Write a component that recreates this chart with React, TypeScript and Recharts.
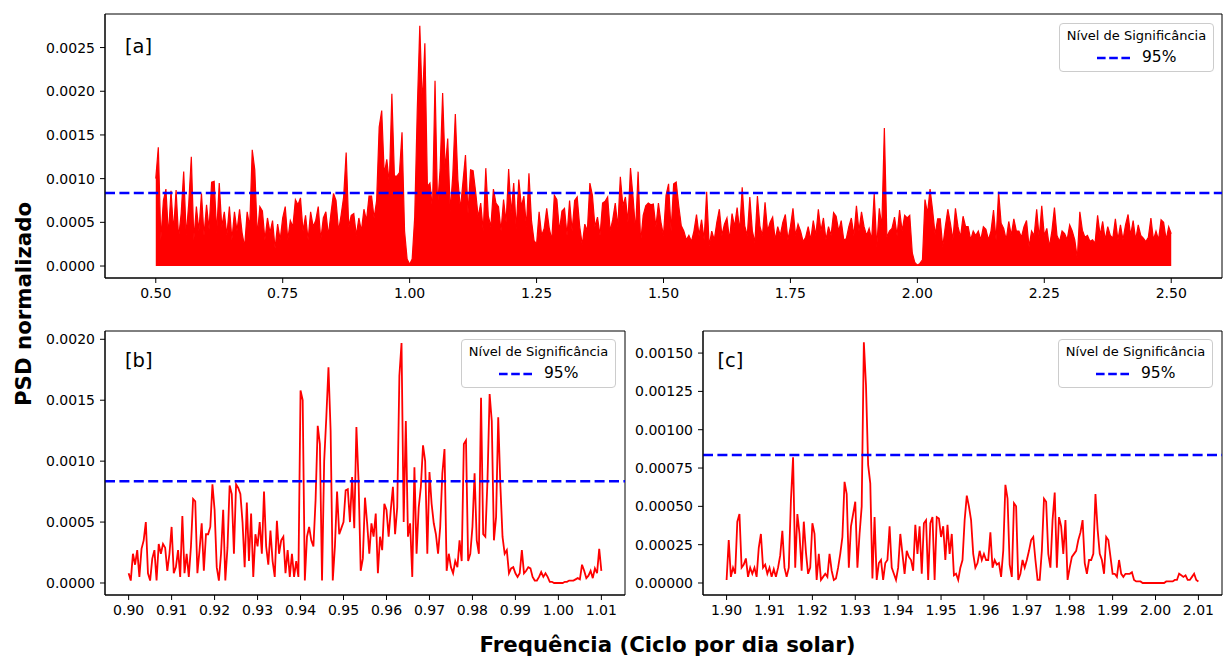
import React from 'react';
import {
  AreaChart,
  Area,
  LineChart,
  Line,
  XAxis,
  YAxis,
  ReferenceLine,
  ReferenceArea,
  Legend,
} from 'recharts';

// 95% significance level of the normalized PSD
const THRESHOLD_95 = 0.000835;

// [a] full band 0.50 - 2.50 c/d, sampled every 0.005 c/d
const FREQ_A_START = 0.5;
const FREQ_A_STEP = 0.005;
const psdA = [
  0.00100, 0.00136, 0.00030, 0.00075, 0.00088, 0.00035, 0.00086, 0.00040, 0.00087, 0.00032,
  0.00060, 0.00108, 0.00035, 0.00072, 0.00125, 0.00030, 0.00068, 0.00040, 0.00083, 0.00035,
  0.00070, 0.00042, 0.00096, 0.00097, 0.00038, 0.00095, 0.00045, 0.00062, 0.00035, 0.00068,
  0.00030, 0.00062, 0.00040, 0.00065, 0.00038, 0.00022, 0.00062, 0.00045, 0.00133, 0.00110,
  0.00035, 0.00068, 0.00063, 0.00030, 0.00055, 0.00038, 0.00052, 0.00020, 0.00048, 0.00030,
  0.00055, 0.00068, 0.00030, 0.00052, 0.00045, 0.00076, 0.00070, 0.00078, 0.00040, 0.00058,
  0.00030, 0.00062, 0.00045, 0.00052, 0.00068, 0.00030, 0.00055, 0.00062, 0.00035, 0.00060,
  0.00083, 0.00075, 0.00040, 0.00058, 0.00079, 0.00130, 0.00045, 0.00058, 0.00060, 0.00035,
  0.00055, 0.00040, 0.00065, 0.00052, 0.00080, 0.00080, 0.00055, 0.00075, 0.00159, 0.00178,
  0.00105, 0.00122, 0.00095, 0.00197, 0.00103, 0.00103, 0.00107, 0.00153, 0.00040, 0.00008,
  0.00002, 0.00008, 0.00056, 0.00178, 0.00275, 0.00184, 0.00255, 0.00091, 0.00095, 0.00065,
  0.00212, 0.00068, 0.00110, 0.00198, 0.00110, 0.00146, 0.00062, 0.00104, 0.00174, 0.00099,
  0.00065, 0.00096, 0.00127, 0.00060, 0.00110, 0.00109, 0.00085, 0.00056, 0.00072, 0.00040,
  0.00112, 0.00057, 0.00045, 0.00088, 0.00072, 0.00068, 0.00040, 0.00076, 0.00050, 0.00111,
  0.00060, 0.00095, 0.00042, 0.00099, 0.00068, 0.00080, 0.00045, 0.00106, 0.00052, 0.00029,
  0.00025, 0.00062, 0.00035, 0.00043, 0.00066, 0.00043, 0.00030, 0.00081, 0.00076, 0.00040,
  0.00063, 0.00066, 0.00035, 0.00075, 0.00040, 0.00075, 0.00079, 0.00045, 0.00024, 0.00048,
  0.00040, 0.00095, 0.00081, 0.00045, 0.00056, 0.00035, 0.00072, 0.00074, 0.00079, 0.00040,
  0.00053, 0.00072, 0.00045, 0.00102, 0.00069, 0.00079, 0.00050, 0.00112, 0.00079, 0.00040,
  0.00108, 0.00027, 0.00058, 0.00069, 0.00072, 0.00070, 0.00071, 0.00045, 0.00072, 0.00050,
  0.00035, 0.00081, 0.00094, 0.00040, 0.00094, 0.00096, 0.00069, 0.00046, 0.00040, 0.00030,
  0.00035, 0.00028, 0.00040, 0.00059, 0.00035, 0.00053, 0.00030, 0.00085, 0.00023, 0.00040,
  0.00030, 0.00050, 0.00065, 0.00035, 0.00048, 0.00055, 0.00030, 0.00060, 0.00045, 0.00067,
  0.00040, 0.00090, 0.00046, 0.00035, 0.00079, 0.00040, 0.00027, 0.00080, 0.00045, 0.00035,
  0.00073, 0.00040, 0.00050, 0.00056, 0.00030, 0.00045, 0.00035, 0.00050, 0.00059, 0.00030,
  0.00045, 0.00066, 0.00035, 0.00048, 0.00040, 0.00028, 0.00033, 0.00045, 0.00030, 0.00052,
  0.00035, 0.00065, 0.00040, 0.00055, 0.00030, 0.00045, 0.00035, 0.00061, 0.00057, 0.00040,
  0.00052, 0.00030, 0.00031, 0.00045, 0.00055, 0.00035, 0.00069, 0.00040, 0.00062, 0.00045,
  0.00035, 0.00043, 0.00030, 0.00083, 0.00022, 0.00066, 0.00045, 0.00158, 0.00033, 0.00040,
  0.00043, 0.00056, 0.00035, 0.00064, 0.00040, 0.00058, 0.00055, 0.00058, 0.00015, 0.00004,
  0.00001, 0.00003, 0.00007, 0.00076, 0.00060, 0.00088, 0.00064, 0.00036, 0.00054, 0.00054,
  0.00022, 0.00045, 0.00065, 0.00049, 0.00030, 0.00066, 0.00045, 0.00033, 0.00057, 0.00045,
  0.00045, 0.00030, 0.00040, 0.00035, 0.00040, 0.00030, 0.00045, 0.00042, 0.00030, 0.00040,
  0.00064, 0.00030, 0.00085, 0.00049, 0.00043, 0.00030, 0.00051, 0.00035, 0.00054, 0.00040,
  0.00040, 0.00033, 0.00045, 0.00052, 0.00022, 0.00040, 0.00035, 0.00065, 0.00032, 0.00069,
  0.00035, 0.00043, 0.00022, 0.00040, 0.00067, 0.00035, 0.00028, 0.00040, 0.00037, 0.00030,
  0.00047, 0.00040, 0.00030, 0.00009, 0.00062, 0.00041, 0.00033, 0.00035, 0.00028, 0.00030,
  0.00026, 0.00058, 0.00035, 0.00051, 0.00030, 0.00045, 0.00035, 0.00032, 0.00054, 0.00030,
  0.00047, 0.00030, 0.00047, 0.00059, 0.00035, 0.00052, 0.00030, 0.00047, 0.00035, 0.00032,
  0.00028, 0.00033, 0.00055, 0.00030, 0.00040, 0.00030, 0.00053, 0.00050, 0.00030, 0.00045,
  0.00037,
];

// [b] zoom 0.90 - 1.01 c/d, sampled every 0.0005 c/d
const FREQ_B_START = 0.9;
const FREQ_B_STEP = 0.0005;
const psdB = [
  0.00008, 0.00002, 0.00024, 0.00015, 0.00027, 0.00005, 0.00028, 0.00035, 0.00050, 0.00008,
  0.00002, 0.00020, 0.00027, 0.00002, 0.00032, 0.00024, 0.00032, 0.00029, 0.00010, 0.00024,
  0.00046, 0.00008, 0.00013, 0.00027, 0.00005, 0.00055, 0.00008, 0.00024, 0.00005, 0.00030,
  0.00069, 0.00067, 0.00008, 0.00027, 0.00049, 0.00010, 0.00040, 0.00040, 0.00046, 0.00081,
  0.00060, 0.00013, 0.00002, 0.00024, 0.00060, 0.00002, 0.00029, 0.00080, 0.00073, 0.00024,
  0.00081, 0.00078, 0.00073, 0.00050, 0.00013, 0.00066, 0.00018, 0.00057, 0.00005, 0.00040,
  0.00030, 0.00050, 0.00024, 0.00075, 0.00030, 0.00015, 0.00043, 0.00018, 0.00005, 0.00051,
  0.00024, 0.00035, 0.00038, 0.00008, 0.00027, 0.00005, 0.00024, 0.00005, 0.00018, 0.00005,
  0.00158, 0.00150, 0.00002, 0.00038, 0.00046, 0.00035, 0.00030, 0.00068, 0.00129, 0.00114,
  0.00002, 0.00100, 0.00136, 0.00177, 0.00125, 0.00002, 0.00030, 0.00075, 0.00040, 0.00045,
  0.00050, 0.00076, 0.00077, 0.00050, 0.00087, 0.00045, 0.00128, 0.00084, 0.00010, 0.00020,
  0.00070, 0.00049, 0.00024, 0.00049, 0.00038, 0.00057, 0.00008, 0.00038, 0.00027, 0.00065,
  0.00060, 0.00038, 0.00060, 0.00079, 0.00040, 0.00062, 0.00170, 0.00197, 0.00050, 0.00133,
  0.00038, 0.00049, 0.00005, 0.00095, 0.00024, 0.00062, 0.00079, 0.00113, 0.00100, 0.00024,
  0.00091, 0.00065, 0.00049, 0.00040, 0.00024, 0.00046, 0.00090, 0.00110, 0.00010, 0.00024,
  0.00013, 0.00008, 0.00018, 0.00013, 0.00035, 0.00018, 0.00114, 0.00117, 0.00018, 0.00024,
  0.00046, 0.00090, 0.00035, 0.00024, 0.00152, 0.00040, 0.00038, 0.00084, 0.00155, 0.00133,
  0.00035, 0.00054, 0.00136, 0.00080, 0.00038, 0.00024, 0.00027, 0.00008, 0.00012, 0.00013,
  0.00008, 0.00005, 0.00008, 0.00027, 0.00008, 0.00010, 0.00013, 0.00012, 0.00005, 0.00002,
  0.00002, 0.00005, 0.00009, 0.00005, 0.00008, 0.00005, 0.00001, 0.00001, 0.00000, 0.00000,
  0.00000, 0.00000, 0.00000, 0.00001, 0.00001, 0.00002, 0.00002, 0.00002, 0.00003, 0.00004,
  0.00003, 0.00015, 0.00010, 0.00004, 0.00006, 0.00010, 0.00004, 0.00012, 0.00008, 0.00028,
  0.00010,
];

// [c] zoom 1.90 - 2.01 c/d, sampled every 0.0005 c/d
const FREQ_C_START = 1.9;
const FREQ_C_STEP = 0.0005;
const psdC = [
  0.00002, 0.00028, 0.00004, 0.00010, 0.00006, 0.00040, 0.00045, 0.00010, 0.00012, 0.00016,
  0.00004, 0.00010, 0.00006, 0.00010, 0.00004, 0.00023, 0.00032, 0.00010, 0.00012, 0.00006,
  0.00010, 0.00004, 0.00009, 0.00004, 0.00010, 0.00018, 0.00034, 0.00010, 0.00004, 0.00010,
  0.00054, 0.00082, 0.00010, 0.00045, 0.00032, 0.00008, 0.00040, 0.00020, 0.00006, 0.00010,
  0.00039, 0.00032, 0.00002, 0.00019, 0.00002, 0.00004, 0.00006, 0.00004, 0.00019, 0.00008,
  0.00002, 0.00003, 0.00010, 0.00019, 0.00030, 0.00066, 0.00058, 0.00010, 0.00037, 0.00045,
  0.00053, 0.00010, 0.00032, 0.00050, 0.00157, 0.00129, 0.00077, 0.00065, 0.00003, 0.00043,
  0.00002, 0.00013, 0.00015, 0.00002, 0.00013, 0.00015, 0.00037, 0.00010, 0.00006, 0.00002,
  0.00010, 0.00032, 0.00019, 0.00006, 0.00021, 0.00017, 0.00015, 0.00008, 0.00038, 0.00019,
  0.00037, 0.00006, 0.00039, 0.00041, 0.00002, 0.00039, 0.00043, 0.00002, 0.00043, 0.00042,
  0.00030, 0.00037, 0.00015, 0.00038, 0.00019, 0.00032, 0.00005, 0.00006, 0.00002, 0.00010,
  0.00015, 0.00041, 0.00057, 0.00050, 0.00041, 0.00019, 0.00010, 0.00013, 0.00021, 0.00015,
  0.00019, 0.00015, 0.00015, 0.00033, 0.00010, 0.00015, 0.00012, 0.00013, 0.00004, 0.00021,
  0.00064, 0.00055, 0.00012, 0.00004, 0.00052, 0.00050, 0.00002, 0.00006, 0.00015, 0.00010,
  0.00015, 0.00021, 0.00028, 0.00030, 0.00015, 0.00002, 0.00002, 0.00021, 0.00055, 0.00053,
  0.00019, 0.00010, 0.00041, 0.00059, 0.00010, 0.00043, 0.00037, 0.00019, 0.00041, 0.00002,
  0.00010, 0.00017, 0.00019, 0.00021, 0.00028, 0.00033, 0.00041, 0.00013, 0.00006, 0.00015,
  0.00015, 0.00019, 0.00058, 0.00035, 0.00019, 0.00015, 0.00006, 0.00030, 0.00028, 0.00017,
  0.00006, 0.00006, 0.00004, 0.00015, 0.00006, 0.00004, 0.00006, 0.00006, 0.00006, 0.00007,
  0.00002, 0.00001, 0.00001, 0.00001, 0.00000, 0.00000, 0.00000, 0.00000, 0.00000, 0.00000,
  0.00000, 0.00000, 0.00000, 0.00000, 0.00000, 0.00001, 0.00001, 0.00001, 0.00001, 0.00002,
  0.00002, 0.00006, 0.00005, 0.00004, 0.00005, 0.00002, 0.00002, 0.00004, 0.00006, 0.00002,
  0.00001,
];

// axis ticks
const xTicksA = [0.5, 0.75, 1.0, 1.25, 1.5, 1.75, 2.0, 2.25, 2.5];
const yTicksA = [0, 0.0005, 0.001, 0.0015, 0.002, 0.0025];
const xTicksB = [0.9, 0.91, 0.92, 0.93, 0.94, 0.95, 0.96, 0.97, 0.98, 0.99, 1.0, 1.01];
const yTicksB = [0, 0.0005, 0.001, 0.0015, 0.002];
const xTicksC = [1.9, 1.91, 1.92, 1.93, 1.94, 1.95, 1.96, 1.97, 1.98, 1.99, 2.0, 2.01];
const yTicksC = [0, 0.00025, 0.0005, 0.00075, 0.001, 0.00125, 0.0015];

// visible ranges (5% padding around the data)
const xDomainA: [number, number] = [0.4, 2.6];
const yDomainA: [number, number] = [-0.000137, 0.002884];
const xDomainB: [number, number] = [0.8945, 1.0155];
const yDomainB: [number, number] = [-0.0000985, 0.002068];
const xDomainC: [number, number] = [1.8945, 2.0155];
const yDomainC: [number, number] = [-0.0000783, 0.001644];

const toRows = (start: number, step: number, values: number[]) =>
  values.map((psd, i) => ({ f: +(start + i * step).toFixed(4), psd }));

const rowsA = toRows(FREQ_A_START, FREQ_A_STEP, psdA);
const rowsB = toRows(FREQ_B_START, FREQ_B_STEP, psdB);
const rowsC = toRows(FREQ_C_START, FREQ_C_STEP, psdC);

const FONT = 'DejaVu Sans, Verdana, sans-serif';
const RED = '#ff0000';
const BLUE = '#0000ff';
const tickStyle = { fontSize: 14, fill: '#000', fontFamily: FONT };

function SignificanceLegend() {
  return (
    <div
      style={{
        position: 'relative',
        width: 155,
        height: 49,
        boxSizing: 'border-box',
        border: '1px solid #cccccc',
        borderRadius: 4,
        background: 'rgba(255,255,255,0.8)',
        fontFamily: FONT,
        color: '#000',
      }}
    >
      <div
        style={{
          position: 'absolute',
          left: 0,
          right: 0,
          top: 3,
          textAlign: 'center',
          fontSize: 13,
          lineHeight: '18px',
          whiteSpace: 'nowrap',
        }}
      >
        Nível de Significância
      </div>
      <svg style={{ position: 'absolute', left: 37, top: 30 }} width={33} height={8}>
        <line x1={0} y1={4} x2={33} y2={4} stroke={BLUE} strokeWidth={2.6} strokeDasharray="8.6 3.6" />
      </svg>
      <div style={{ position: 'absolute', left: 82, top: 23, fontSize: 15.5, lineHeight: '20px' }}>95%</div>
    </div>
  );
}

const panelTag = (text: string, dx: number, dy: number) => (props: any) => {
  const vb = props.viewBox || { x: 0, y: 0 };
  return (
    <text x={vb.x + dx} y={vb.y + dy} fontSize={19.5} fill="#000" fontFamily={FONT}>
      {text}
    </text>
  );
};

export default function App() {
  return (
    <div
      style={{
        position: 'absolute',
        left: 0,
        top: 0,
        width: 1231,
        height: 657,
        background: '#fff',
        fontFamily: FONT,
        overflow: 'hidden',
      }}
    >
      {/* [a] full band */}
      <div style={{ position: 'absolute', left: 0, top: 0 }}>
        <AreaChart width={1231} height={310} data={rowsA} margin={{ top: 14, right: 9, bottom: 0, left: 0 }}>
          <XAxis
            dataKey="f"
            type="number"
            domain={xDomainA}
            ticks={xTicksA}
            allowDataOverflow
            height={32}
            tickSize={5}
            tickMargin={5}
            tick={tickStyle}
            tickLine={{ stroke: '#000' }}
            axisLine={{ stroke: '#000' }}
            tickFormatter={(v: number) => v.toFixed(2)}
          />
          <YAxis
            type="number"
            domain={yDomainA}
            ticks={yTicksA}
            allowDataOverflow
            width={105}
            tickSize={5}
            tickMargin={5}
            tick={tickStyle}
            tickLine={{ stroke: '#000' }}
            axisLine={{ stroke: '#000' }}
            tickFormatter={(v: number) => v.toFixed(4)}
          />
          <Area
            type="linear"
            dataKey="psd"
            stroke={RED}
            strokeWidth={1.2}
            fill={RED}
            fillOpacity={1}
            baseValue={0}
            dot={false}
            activeDot={false}
            isAnimationActive={false}
          />
          <ReferenceLine y={THRESHOLD_95} stroke={BLUE} strokeWidth={2.6} strokeDasharray="10 4.4" />
          <ReferenceArea
            x1={xDomainA[0]}
            x2={xDomainA[1]}
            y1={yDomainA[0]}
            y2={yDomainA[1]}
            fill="none"
            stroke="#000"
            strokeWidth={1}
            ifOverflow="visible"
            label={panelTag('[a]', 20, 38.8)}
          />
          <Legend
            layout="vertical"
            align="center"
            verticalAlign="middle"
            wrapperStyle={{ left: 1059, top: 23, width: 155, height: 49 }}
            content={() => <SignificanceLegend />}
          />
        </AreaChart>
      </div>

      {/* [b] zoom around 1 c/d */}
      <div style={{ position: 'absolute', left: 0, top: 300 }}>
        <LineChart width={640} height={340} data={rowsB} margin={{ top: 31, right: 15, bottom: 0, left: 0 }}>
          <XAxis
            dataKey="f"
            type="number"
            domain={xDomainB}
            ticks={xTicksB}
            allowDataOverflow
            height={45}
            tickSize={5}
            tickMargin={5}
            tick={tickStyle}
            tickLine={{ stroke: '#000' }}
            axisLine={{ stroke: '#000' }}
            tickFormatter={(v: number) => v.toFixed(2)}
          />
          <YAxis
            type="number"
            domain={yDomainB}
            ticks={yTicksB}
            allowDataOverflow
            width={105}
            tickSize={5}
            tickMargin={5}
            tick={tickStyle}
            tickLine={{ stroke: '#000' }}
            axisLine={{ stroke: '#000' }}
            tickFormatter={(v: number) => v.toFixed(4)}
          />
          <Line
            type="linear"
            dataKey="psd"
            stroke={RED}
            strokeWidth={1.8}
            dot={false}
            activeDot={false}
            isAnimationActive={false}
          />
          <ReferenceLine y={THRESHOLD_95} stroke={BLUE} strokeWidth={2.6} strokeDasharray="10 4.4" />
          <ReferenceArea
            x1={xDomainB[0]}
            x2={xDomainB[1]}
            y1={yDomainB[0]}
            y2={yDomainB[1]}
            fill="none"
            stroke="#000"
            strokeWidth={1}
            ifOverflow="visible"
            label={panelTag('[b]', 20, 36.4)}
          />
          <Legend
            layout="vertical"
            align="center"
            verticalAlign="middle"
            wrapperStyle={{ left: 461, top: 39, width: 155, height: 49 }}
            content={() => <SignificanceLegend />}
          />
        </LineChart>
      </div>

      {/* [c] zoom around 2 c/d */}
      <div style={{ position: 'absolute', left: 620, top: 300 }}>
        <LineChart width={611} height={340} data={rowsC} margin={{ top: 31, right: 9, bottom: 0, left: 0 }}>
          <XAxis
            dataKey="f"
            type="number"
            domain={xDomainC}
            ticks={xTicksC}
            allowDataOverflow
            height={45}
            tickSize={5}
            tickMargin={5}
            tick={tickStyle}
            tickLine={{ stroke: '#000' }}
            axisLine={{ stroke: '#000' }}
            tickFormatter={(v: number) => v.toFixed(2)}
          />
          <YAxis
            type="number"
            domain={yDomainC}
            ticks={yTicksC}
            allowDataOverflow
            width={83}
            tickSize={5}
            tickMargin={5}
            tick={tickStyle}
            tickLine={{ stroke: '#000' }}
            axisLine={{ stroke: '#000' }}
            tickFormatter={(v: number) => v.toFixed(5)}
          />
          <Line
            type="linear"
            dataKey="psd"
            stroke={RED}
            strokeWidth={1.8}
            dot={false}
            activeDot={false}
            isAnimationActive={false}
          />
          <ReferenceLine y={THRESHOLD_95} stroke={BLUE} strokeWidth={2.6} strokeDasharray="10 4.4" />
          <ReferenceArea
            x1={xDomainC[0]}
            x2={xDomainC[1]}
            y1={yDomainC[0]}
            y2={yDomainC[1]}
            fill="none"
            stroke="#000"
            strokeWidth={1}
            ifOverflow="visible"
            label={panelTag('[c]', 14.5, 36.4)}
          />
          <Legend
            layout="vertical"
            align="center"
            verticalAlign="middle"
            wrapperStyle={{ left: 438, top: 39, width: 155, height: 49 }}
            content={() => <SignificanceLegend />}
          />
        </LineChart>
      </div>

      {/* shared axis titles */}
      <svg
        width={1231}
        height={657}
        style={{ position: 'absolute', left: 0, top: 0, pointerEvents: 'none' }}
      >
        <text
          x={667.5}
          y={652}
          textAnchor="middle"
          fontSize={21.3}
          fontWeight="bold"
          fontFamily={FONT}
          fill="#000"
        >
          Frequência (Ciclo por dia solar)
        </text>
        <text
          transform="translate(30.5,304) rotate(-90)"
          textAnchor="middle"
          fontSize={21.3}
          fontWeight="bold"
          fontFamily={FONT}
          fill="#000"
        >
          PSD normalizado
        </text>
      </svg>
    </div>
  );
}
